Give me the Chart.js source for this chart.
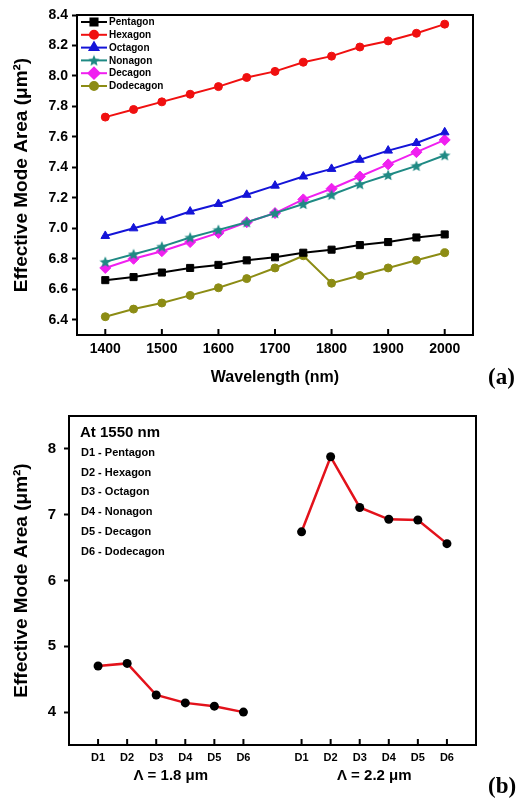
<!DOCTYPE html>
<html lang="en">
<head>
<meta charset="UTF-8">
<title>Effective Mode Area</title>
<script src="https://cdn.jsdelivr.net/npm/chart.js"></script>
<style>
    body {
        margin: 0;
        background: #fff;
        width: 521px;
        height: 798px;
        position: relative;
        overflow: hidden;
    }
    #topChart { position: absolute; left: 0; top: 0; }
    #bottomChart { position: absolute; left: 0; top: 395px; }
    .tag {
        position: absolute;
        font-family: "Liberation Serif", "Times New Roman", serif;
        font-weight: bold;
        font-size: 23px;
    }
</style>
</head>
<body>
<canvas id="topChart" width="521" height="395"></canvas>
<canvas id="bottomChart" width="521" height="403"></canvas>
<div class="tag" style="left:488px; top:364px;">(a)</div>
<div class="tag" style="left:488px; top:773px;">(b)</div>
<script>
// ---- data (a) ----
const wavelengths = [1400, 1450, 1500, 1550, 1600, 1650, 1700, 1750, 1800, 1850, 1900, 1950, 2000];
const pentagon  = [6.66, 6.68, 6.71, 6.74, 6.76, 6.79, 6.81, 6.84, 6.86, 6.89, 6.91, 6.94, 6.96];
const hexagon   = [7.73, 7.78, 7.83, 7.88, 7.93, 7.99, 8.03, 8.09, 8.13, 8.19, 8.23, 8.28, 8.34];
const octagon   = [6.95, 7.00, 7.05, 7.11, 7.16, 7.22, 7.28, 7.34, 7.39, 7.45, 7.51, 7.56, 7.63];
const nonagon   = [6.78, 6.83, 6.88, 6.94, 6.99, 7.04, 7.10, 7.16, 7.22, 7.29, 7.35, 7.41, 7.48];
const decagon   = [6.74, 6.80, 6.85, 6.91, 6.97, 7.04, 7.10, 7.19, 7.26, 7.34, 7.42, 7.50, 7.58];
const dodecagon = [6.42, 6.47, 6.51, 6.56, 6.61, 6.67, 6.74, 6.82, 6.64, 6.69, 6.74, 6.79, 6.84];
const shapeNames = ['Pentagon', 'Hexagon', 'Octagon', 'Nonagon', 'Decagon', 'Dodecagon'];
const topXTicks = [1400, 1500, 1600, 1700, 1800, 1900, 2000];
const topYTicks = [6.4, 6.6, 6.8, 7.0, 7.2, 7.4, 7.6, 7.8, 8.0, 8.2, 8.4];

// ---- data (b) ----
const dLabels = ['D1', 'D2', 'D3', 'D4', 'D5', 'D6'];
const pitch18 = [4.70, 4.74, 4.26, 4.14, 4.09, 4.00];
const pitch22 = [6.74, 7.88, 7.11, 6.93, 6.92, 6.56];
const groupNames = ['\u039B = 1.8 \u03BCm', '\u039B = 2.2 \u03BCm'];
const bottomYTicks = [4, 5, 6, 7, 8];
const noteTitle = 'At 1550 nm';

Chart.defaults.font.family = '"Liberation Sans", Arial, sans-serif';
Chart.defaults.font.weight = 'bold';
Chart.defaults.font.size = 14;
Chart.defaults.color = '#000';

// filled five point star for the nonagon marker
function starImage(color, size) {
    const c = document.createElement('canvas');
    c.width = size; c.height = size;
    const g = c.getContext('2d');
    const r = size / 2, r2 = r * 0.45;
    g.beginPath();
    for (let i = 0; i < 10; i++) {
        const a = -Math.PI / 2 + i * Math.PI / 5;
        const rr = i % 2 ? r2 : r;
        g.lineTo(r + rr * Math.cos(a), r + 0.5 + rr * Math.sin(a));
    }
    g.closePath();
    g.fillStyle = color;
    g.fill();
    return c;
}

const colors = ['#000000', '#f01010', '#1414d8', '#1f8a84', '#f020f0', '#8c8c14'];
const styles = ['rect', 'circle', 'triangle', starImage('#1f8a84', 12), 'rectRot', 'circle'];
const radii = [5, 4, 5, 5, 5.5, 4];
const topSeries = [pentagon, hexagon, octagon, nonagon, decagon, dodecagon];
const yTitle = 'Effective Mode Area (\u03BCm\u00B2)';

function boxAndInwardTicks(chart) {
    const {ctx, chartArea: a} = chart;
    const xs = chart.scales.x;
    ctx.save();
    ctx.strokeStyle = '#000';
    ctx.lineWidth = 2;
    ctx.strokeRect(a.left, a.top, a.right - a.left, a.bottom - a.top);
    ctx.beginPath();
    xs.ticks.forEach(t => {
        const px = xs.getPixelForValue(t.value);
        ctx.moveTo(px, a.bottom);
        ctx.lineTo(px, a.bottom - 6);
    });
    ctx.stroke();
    ctx.restore();
}

const topDecor = {
    id: 'topDecor',
    afterDraw(chart) {
        boxAndInwardTicks(chart);
        const ctx = chart.ctx;
        ctx.save();
        ctx.font = 'bold 10px "Liberation Sans", Arial, sans-serif';
        ctx.textBaseline = 'middle';
        chart.data.datasets.forEach((ds, i) => {
            const y = 22 + i * 12.8;
            ctx.strokeStyle = ds.borderColor;
            ctx.fillStyle = ds.borderColor;
            ctx.lineWidth = 2;
            ctx.beginPath();
            ctx.moveTo(81, y);
            ctx.lineTo(107, y);
            ctx.stroke();
            Chart.helpers.drawPoint(ctx, {pointStyle: ds.pointStyle, radius: ds.pointRadius, rotation: 0, borderWidth: 1}, 94, y);
            ctx.fillStyle = '#000';
            ctx.fillText(ds.label, 109, y + 0.5);
        });
        ctx.restore();
    }
};

new Chart(document.getElementById('topChart'), {
    type: 'line',
    data: {
        datasets: topSeries.map((arr, i) => ({
            label: shapeNames[i],
            data: wavelengths.map((w, j) => ({x: w, y: arr[j]})),
            borderColor: colors[i],
            backgroundColor: colors[i],
            pointBackgroundColor: colors[i],
            pointBorderColor: colors[i],
            pointStyle: styles[i],
            pointRadius: radii[i],
            pointBorderWidth: 1,
            borderWidth: 2,
            tension: 0
        }))
    },
    options: {
        responsive: false,
        animation: false,
        layout: {padding: {top: 15, right: 48, bottom: 0, left: 0}},
        plugins: {legend: {display: false}, tooltip: {enabled: false}},
        scales: {
            x: {
                type: 'linear',
                min: 1350,
                max: 2050,
                afterBuildTicks: s => { s.ticks = topXTicks.map(v => ({value: v})); },
                afterFit: s => { s.height = 60; },
                grid: {display: false, drawTicks: false},
                border: {display: false},
                ticks: {padding: 6, callback: v => String(v), font: {size: 14, weight: 'bold'}},
                title: {display: true, text: 'Wavelength (nm)', font: {size: 16, weight: 'bold'}, padding: {top: 0, bottom: 8}}
            },
            y: {
                min: 6.3,
                max: 8.4,
                afterBuildTicks: s => { s.ticks = topYTicks.map(v => ({value: v})); },
                afterFit: s => { s.width = 77; },
                grid: {drawOnChartArea: false, drawTicks: true, tickLength: 5, tickWidth: 2, color: '#000'},
                border: {display: false},
                ticks: {padding: 4, callback: v => v.toFixed(1), font: {size: 14, weight: 'bold'}},
                title: {display: true, text: yTitle, font: {size: 19, weight: 'bold'}, padding: {top: 10, bottom: 0}}
            }
        }
    },
    plugins: [topDecor]
});

// ---- (b) ----
const pos18 = [1, 2, 3, 4, 5, 6];
const pos22 = [8, 9, 10, 11, 12, 13];

const bottomDecor = {
    id: 'bottomDecor',
    afterDraw(chart) {
        boxAndInwardTicks(chart);
        const ctx = chart.ctx;
        const xs = chart.scales.x;
        ctx.save();
        ctx.fillStyle = '#000';
        ctx.textBaseline = 'middle';
        ctx.textAlign = 'center';
        ctx.font = 'bold 15px "Liberation Sans", Arial, sans-serif';
        ctx.fillText(groupNames[0], xs.getPixelForValue(3.5), 381);
        ctx.fillText(groupNames[1], xs.getPixelForValue(10.5), 381);
        ctx.textAlign = 'left';
        ctx.fillText(noteTitle, 80, 38);
        ctx.font = 'bold 11px "Liberation Sans", Arial, sans-serif';
        shapeNames.forEach((n, i) => {
            ctx.fillText(dLabels[i] + ' - ' + n, 81, 58 + i * 19.7);
        });
        ctx.restore();
    }
};

function groupSet(pos, vals) {
    return {
        data: pos.map((p, i) => ({x: p, y: vals[i]})),
        borderColor: '#e3121b',
        borderWidth: 2.5,
        pointBackgroundColor: '#000',
        pointBorderColor: '#000',
        pointRadius: 4.5,
        pointBorderWidth: 0,
        tension: 0
    };
}

new Chart(document.getElementById('bottomChart'), {
    type: 'line',
    data: {datasets: [groupSet(pos18, pitch18), groupSet(pos22, pitch22)]},
    options: {
        responsive: false,
        animation: false,
        layout: {padding: {top: 21, right: 45, bottom: 0, left: 0}},
        plugins: {legend: {display: false}, tooltip: {enabled: false}},
        scales: {
            x: {
                type: 'linear',
                min: 0,
                max: 14,
                afterBuildTicks: s => { s.ticks = pos18.concat(pos22).map(v => ({value: v})); },
                afterFit: s => { s.height = 53; },
                grid: {display: false, drawTicks: false},
                border: {display: false},
                ticks: {padding: 6, callback: v => dLabels[v < 7 ? v - 1 : v - 8], font: {size: 11, weight: 'bold'}}
            },
            y: {
                min: 3.5,
                max: 8.5,
                afterBuildTicks: s => { s.ticks = bottomYTicks.map(v => ({value: v})); },
                afterFit: s => { s.width = 69; },
                grid: {drawOnChartArea: false, drawTicks: true, tickLength: 5, tickWidth: 2, color: '#000'},
                border: {display: false},
                ticks: {padding: 8, callback: v => String(v), font: {size: 15, weight: 'bold'}},
                title: {display: true, text: yTitle, font: {size: 19, weight: 'bold'}, padding: {top: 10, bottom: 0}}
            }
        }
    },
    plugins: [bottomDecor]
});
</script>
</body>
</html>
